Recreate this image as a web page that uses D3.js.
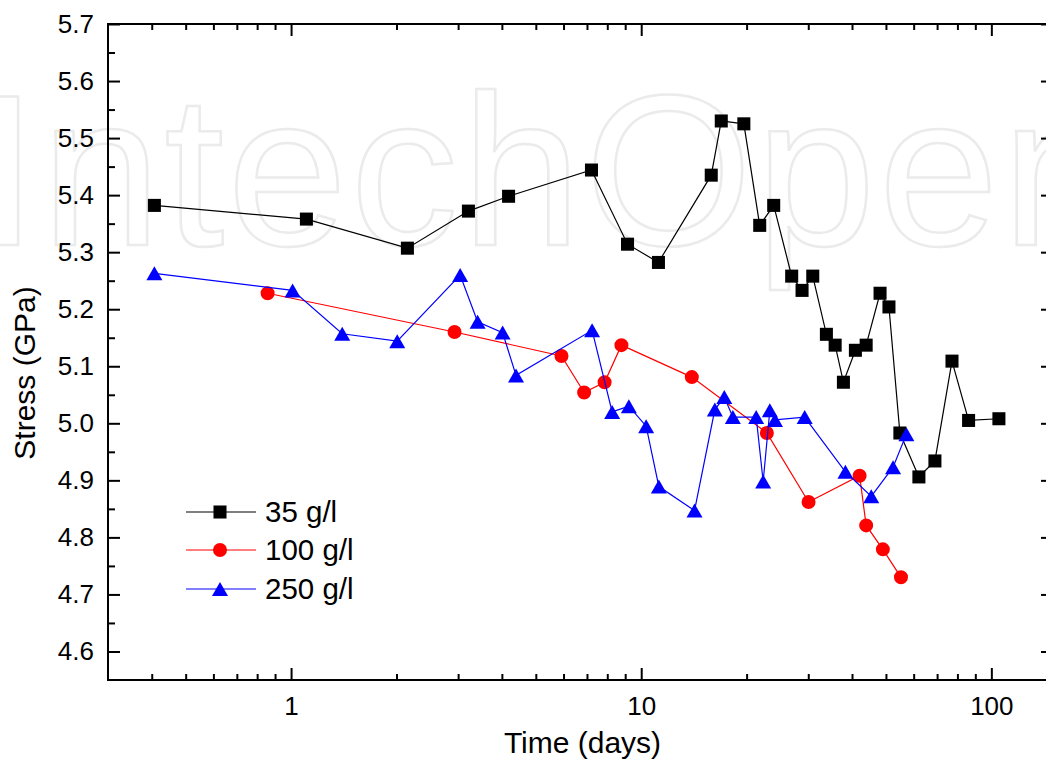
<!DOCTYPE html>
<html><head><meta charset="utf-8">
<script src="https://cdn.jsdelivr.net/npm/d3@7"></script>
<style>
body{margin:0;background:#fff}
svg{display:block}
text{font-family:"Liberation Sans",Arial,Helvetica,sans-serif;fill:#000}
</style>
</head><body>
<svg id="chart" width="1046" height="764"></svg>
<script>
// ---------- data ----------
const seriesNames = ["35 g/l", "100 g/l", "250 g/l"];

const time35   = [0.407, 1.106, 2.149, 3.21, 4.18, 7.21, 9.14, 11.2, 15.85, 16.93, 19.64, 21.8, 23.9, 26.9, 28.8, 30.9, 33.8, 35.8, 37.8, 40.9, 43.9, 48.1, 51.0, 54.8, 62.1, 69.0, 77.2, 86.1, 105.1];
const stress35 = [5.382, 5.358, 5.307, 5.372, 5.398, 5.444, 5.314, 5.282, 5.435, 5.530, 5.525, 5.347, 5.382, 5.258, 5.233, 5.258, 5.156, 5.137, 5.072, 5.128, 5.137, 5.228, 5.204, 4.983, 4.906, 4.934, 5.109, 5.005, 5.008];

const time100   = [0.857, 2.93, 5.92, 6.87, 7.86, 8.78, 13.95, 22.85, 30.06, 42.05, 43.9, 49.0, 55.2];
const stress100 = [5.228, 5.160, 5.118, 5.054, 5.072, 5.137, 5.081, 4.983, 4.862, 4.908, 4.821, 4.779, 4.730];

const time250   = [0.407, 1.01, 1.40, 2.01, 3.04, 3.41, 4.02, 4.39, 7.24, 8.26, 9.22, 10.33, 11.23, 14.2, 16.23, 17.27, 18.27, 21.3, 22.3, 23.3, 24.1, 29.3, 38.3, 45.4, 52.4, 57.2];
const stress250 = [5.263, 5.233, 5.157, 5.144, 5.260, 5.178, 5.159, 5.084, 5.163, 5.020, 5.030, 4.995, 4.889, 4.847, 5.024, 5.046, 5.011, 5.011, 4.898, 5.023, 5.006, 5.011, 4.915, 4.872, 4.923, 4.981];

const xMajorTicks = [1, 10, 100];
const xTickLabels = ["1", "10", "100"];
const xMinorTicks = [0.4,0.5,0.6,0.7,0.8,0.9, 2,3,4,5,6,7,8,9, 20,30,40,50,60,70,80,90];
const yMajorTicks = [4.6,4.7,4.8,4.9,5.0,5.1,5.2,5.3,5.4,5.5,5.6,5.7];
const yMinorTicks = [4.65,4.75,4.85,4.95,5.05,5.15,5.25,5.35,5.45,5.55,5.65];
const xDomain = [0.3, 150];
const yDomain = [4.55, 5.7];

const colors = ["#000000", "#ff0000", "#0000ff"];
const shapes = ["square", "circle", "triangle"];

// ---------- layout ----------
const svg = d3.select("#chart");
const L = 108, R = 1053, T = 24, B = 680;

const x = d3.scaleLog().domain(xDomain).range([L, R]);
const y = d3.scaleLinear().domain(yDomain).range([B, T]);

// watermark (publisher mark, faint outline)
svg.append("text")
  .attr("x", -22).attr("y", 245)
  .attr("font-size", 216)
  .style("fill", "none")
  .attr("stroke", "#ebebeb")
  .attr("stroke-width", 2.5)
  .attr("letter-spacing", 3)
  .text("IntechOpen");

// ---------- axes ----------
function styleAxis(g) {
  g.select(".domain").remove();
  g.selectAll("line").attr("stroke", "#000").attr("stroke-width", 2);
  g.selectAll("text").attr("font-size", 26).style("font-family", '"Liberation Sans",Arial,sans-serif').attr("fill", "#000");
}

// bottom major with labels
svg.append("g").attr("transform", `translate(0,${B})`)
  .call(d3.axisBottom(x).tickValues(xMajorTicks).tickFormat((d, i) => xTickLabels[i]).tickSizeInner(-12).tickSizeOuter(0).tickPadding(17))
  .call(styleAxis);
svg.append("g").attr("transform", `translate(0,${B})`)
  .call(d3.axisBottom(x).tickValues(xMinorTicks).tickFormat("").tickSizeInner(-6).tickSizeOuter(0))
  .call(styleAxis);
// top mirror
svg.append("g").attr("transform", `translate(0,${T})`)
  .call(d3.axisTop(x).tickValues(xMajorTicks).tickFormat("").tickSizeInner(-12).tickSizeOuter(0))
  .call(styleAxis);
svg.append("g").attr("transform", `translate(0,${T})`)
  .call(d3.axisTop(x).tickValues(xMinorTicks).tickFormat("").tickSizeInner(-6).tickSizeOuter(0))
  .call(styleAxis);
// left
svg.append("g").attr("transform", `translate(${L},0)`)
  .call(d3.axisLeft(y).tickValues(yMajorTicks).tickFormat(d3.format(".1f")).tickSizeInner(-12).tickSizeOuter(0).tickPadding(14))
  .call(styleAxis);
svg.append("g").attr("transform", `translate(${L},0)`)
  .call(d3.axisLeft(y).tickValues(yMinorTicks).tickFormat("").tickSizeInner(-7).tickSizeOuter(0))
  .call(styleAxis);
// right mirror
svg.append("g").attr("transform", `translate(${R},0)`)
  .call(d3.axisRight(y).tickValues(yMajorTicks).tickFormat("").tickSizeInner(-12).tickSizeOuter(0))
  .call(styleAxis);
svg.append("g").attr("transform", `translate(${R},0)`)
  .call(d3.axisRight(y).tickValues(yMinorTicks).tickFormat("").tickSizeInner(-7).tickSizeOuter(0))
  .call(styleAxis);

// frame
svg.append("rect").attr("x", L).attr("y", T).attr("width", R - L).attr("height", B - T)
  .attr("fill", "none").attr("stroke", "#000").attr("stroke-width", 2);

// titles
svg.append("text").attr("x", (L + R) / 2 + 2).attr("y", 753)
  .attr("text-anchor", "middle").attr("font-size", 30).text("Time (days)");
svg.append("text").attr("transform", "translate(35,373) rotate(-90)")
  .attr("text-anchor", "middle").attr("font-size", 30).text("Stress (GPa)");

// ---------- markers ----------
function markerPath(shape) {
  if (shape === "square") return d3.symbol(d3.symbolSquare, 170)();
  if (shape === "circle") return d3.symbol(d3.symbolCircle, 154)();
  // triangle, bbox-centred, width 16 height 14
  return "M0,-7L8,7L-8,7Z";
}

const series = [
  {t: time35, s: stress35},
  {t: time100, s: stress100},
  {t: time250, s: stress250}
];

const line = d3.line().x(d => x(d[0])).y(d => y(d[1]));

series.forEach((ser, i) => {
  const pts = ser.t.map((t, k) => [t, ser.s[k]]);
  const g = svg.append("g");
  g.append("path").datum(pts).attr("d", line)
    .attr("fill", "none").attr("stroke", colors[i]).attr("stroke-width", 1.2);
  g.selectAll("path.m").data(pts).join("path").attr("class", "m")
    .attr("transform", d => `translate(${x(d[0])},${y(d[1])})`)
    .attr("d", markerPath(shapes[i]))
    .attr("fill", colors[i]);
});

// ---------- legend ----------
const legRows = [512, 550, 589];
const leg = svg.append("g");
seriesNames.forEach((name, i) => {
  const ry = legRows[i];
  leg.append("line").attr("x1", 186).attr("x2", 256).attr("y1", ry).attr("y2", ry)
    .attr("stroke", colors[i]).attr("stroke-width", 1.2);
  leg.append("path").attr("transform", `translate(220,${ry})`).attr("d", markerPath(shapes[i])).attr("fill", colors[i]);
  leg.append("text").attr("x", 265).attr("y", ry + 10).attr("font-size", 29.5).text(name);
});
</script>
</body></html>
